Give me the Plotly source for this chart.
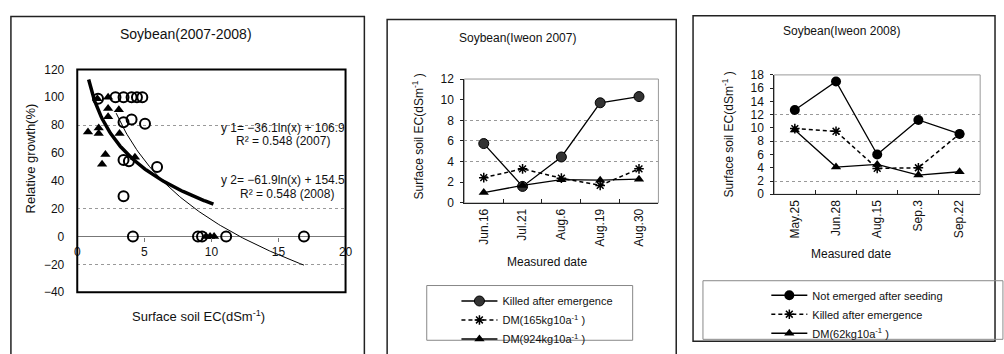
import numpy as np
import plotly.graph_objects as go

W, H = 1004, 354
FONT = "Liberation Sans, Arial, sans-serif"

# ---------------- data ----------------
# Panel 1: relative growth vs surface soil EC
tri_x = [0.8, 1.5, 1.6, 1.6, 1.85, 2.1, 2.3, 2.3, 2.3, 3.1, 3.15, 4.3, 9.6, 9.9, 10.2]
tri_y = [75, 99, 78, 74, 52, 59, 100, 92, 86, 91, 74, 57, 0, 0, 0]
circ_x = [1.55, 2.85, 3.45, 4.05, 4.45, 4.85, 3.45, 4.05, 5.05, 3.45, 3.85, 5.95, 3.45, 4.15, 9.0, 9.3, 11.1, 16.9]
circ_y = [99, 100, 100, 100, 100, 100, 82, 84, 81, 55, 54, 50, 29, 0, 0, 0, 0, 0]
trend1_coef = [-36.1, 106.9]   # y1 = a ln(x) + b (2007)
trend1_span = [0.85, 10.15]
trend2_coef = [-61.9, 154.5]   # y2 = a ln(x) + b (2008)
trend2_span = [2.9, 16.9]
grid1 = [-20, 20, 80]

# Panel 2: Soybean (Iweon 2007)
dates07 = ["Jun.16", "Jul.21", "Aug.6", "Aug.19", "Aug.30"]
killed07 = [5.75, 1.6, 4.45, 9.7, 10.3]
dm165 = [2.45, 3.3, 2.4, 1.7, 3.3]
dm924 = [1.0, 1.7, 2.25, 2.2, 2.3]
grid2 = [4, 6, 8]

# Panel 3: Soybean (Iweon 2008)
dates08 = ["May.25", "Jun.28", "Aug.15", "Sep.3", "Sep.22"]
notemerged08 = [12.7, 17.0, 6.0, 11.2, 9.1]
killed08 = [9.9, 9.5, 3.9, 4.0, 9.1]
dm62 = [9.7, 4.1, 4.5, 2.9, 3.4]
grid3 = [2, 8, 12]


def px(x):
    return x / W


def py(y):
    return 1 - y / H


fig = go.Figure()

# ---------- Panel 1 ----------
fig.add_trace(go.Scatter(x=tri_x, y=tri_y, mode="markers", xaxis="x", yaxis="y",
                         marker=dict(symbol="triangle-up", size=9, color="black"),
                         showlegend=False))
fig.add_trace(go.Scatter(x=circ_x, y=circ_y, mode="markers", xaxis="x", yaxis="y",
                         marker=dict(symbol="circle-open", size=10, color="black",
                                     line=dict(width=2, color="black")),
                         showlegend=False))
for coef, span, wd in [(trend1_coef, trend1_span, 3.5), (trend2_coef, trend2_span, 1)]:
    xs = np.linspace(span[0], span[1], 120)
    ys = coef[0] * np.log(xs) + coef[1]
    fig.add_trace(go.Scatter(x=xs, y=ys, mode="lines", xaxis="x", yaxis="y",
                             line=dict(color="black", width=wd), showlegend=False))

DASH = "4px,3px"

# ---------- Panel 2 ----------
fig.add_trace(go.Scatter(x=dates07, y=killed07, mode="lines+markers", xaxis="x2", yaxis="y2",
                         name="Killed after emergence", legend="legend", legendgroup="a1",
                         line=dict(color="black", width=1.3),
                         marker=dict(symbol="circle", size=10, color="#333",
                                     line=dict(color="black", width=1))))
fig.add_trace(go.Scatter(x=dates07, y=dm165, mode="lines+markers", xaxis="x2", yaxis="y2",
                         name="DM(165kg10a<sup>-1</sup> )", legend="legend", legendgroup="a2",
                         line=dict(color="black", width=1.5, dash=DASH),
                         marker=dict(symbol="asterisk-open", size=8, color="black",
                                     line=dict(color="black", width=1.5))))
fig.add_trace(go.Scatter(x=dates07, y=dm924, mode="lines+markers", xaxis="x2", yaxis="y2",
                         name="DM(924kg10a<sup>-1</sup> )", legend="legend", legendgroup="a3",
                         line=dict(color="black", width=1.3),
                         marker=dict(symbol="triangle-up", size=9, color="black")))

# ---------- Panel 3 ----------
fig.add_trace(go.Scatter(x=dates08, y=notemerged08, mode="lines+markers", xaxis="x3", yaxis="y3",
                         name="Not emerged after seeding", legend="legend2", legendgroup="b1",
                         line=dict(color="black", width=1.3),
                         marker=dict(symbol="circle", size=10, color="black")))
fig.add_trace(go.Scatter(x=dates08, y=killed08, mode="lines+markers", xaxis="x3", yaxis="y3",
                         name="Killed after emergence", legend="legend2", legendgroup="b2",
                         line=dict(color="black", width=1.5, dash=DASH),
                         marker=dict(symbol="asterisk-open", size=8, color="black",
                                     line=dict(color="black", width=1.5))))
fig.add_trace(go.Scatter(x=dates08, y=dm62, mode="lines+markers", xaxis="x3", yaxis="y3",
                         name="DM(62kg10a<sup>-1</sup> )", legend="legend2", legendgroup="b3",
                         line=dict(color="black", width=1.3),
                         marker=dict(symbol="triangle-up", size=9, color="black")))

# ---------- axes ----------
tick_font = dict(family=FONT, size=12, color="#111")
y1_dom = [py(297), py(65)]
y1_range = [-40, 120]
zero_pos = y1_dom[0] + (0 - y1_range[0]) / (y1_range[1] - y1_range[0]) * (y1_dom[1] - y1_dom[0])

fig.update_layout(
    xaxis=dict(domain=[px(75), px(346)], range=[0, 20], dtick=5, anchor="free", position=zero_pos,
               showline=False, showgrid=False, zeroline=False, ticks="outside", ticklen=4,
               tickcolor="#777", tickfont=tick_font, ticklabelstandoff=0),
    yaxis=dict(domain=y1_dom, range=y1_range, dtick=20, anchor="x", showgrid=False,
               zeroline=True, zerolinecolor="#777", zerolinewidth=1, showline=False,
               tickfont=tick_font, ticklabelstandoff=12,
               minor=dict(tickvals=grid1, showgrid=True, gridcolor="#999", griddash="dot", gridwidth=1)),
    xaxis2=dict(domain=[px(466), px(662)], type="category", range=[-0.5, 4.5], anchor="y2",
                showline=True, linecolor="#222", linewidth=1, ticks="inside", tickson="boundaries",
                ticklen=4, tickcolor="#222", tickangle=-90, tickfont=tick_font, showgrid=False),
    yaxis2=dict(domain=[py(204), py(75)], range=[0, 12], dtick=2, anchor="x2", showline=True,
                linecolor="#222", linewidth=1, ticks="outside", ticklen=3, tickcolor="#222",
                tickfont=tick_font, showgrid=False, zeroline=False, ticklabelstandoff=4,
                minor=dict(tickvals=grid2, showgrid=True, gridcolor="#999", griddash="dot", gridwidth=1)),
    xaxis3=dict(domain=[px(779), px(987)], type="category", range=[-0.5, 4.5], anchor="y3",
                showline=True, linecolor="#222", linewidth=1, ticks="inside", tickson="boundaries",
                ticklen=4, tickcolor="#222", tickangle=-90, tickfont=tick_font, showgrid=False),
    yaxis3=dict(domain=[py(195), py(70.7)], range=[0, 18], dtick=2, anchor="x3", showline=True,
                linecolor="#222", linewidth=1, ticks="outside", ticklen=3, tickcolor="#222",
                tickfont=tick_font, showgrid=False, zeroline=False, ticklabelstandoff=4,
                minor=dict(tickvals=grid3, showgrid=True, gridcolor="#999", griddash="dot", gridwidth=1)),
)

# ---------- frames ----------
shapes = [
    # outer panel frames
    dict(type="rect", xref="paper", yref="paper", x0=px(8), x1=px(365), y0=py(362), y1=py(10),
         line=dict(color="#222", width=1.5)),
    dict(type="rect", xref="paper", yref="paper", x0=px(388), x1=px(680), y0=py(362), y1=py(13),
         line=dict(color="#222", width=1.5)),
    dict(type="rect", xref="paper", yref="paper", x0=px(697), x1=px(1002), y0=py(348), y1=py(9),
         line=dict(color="#222", width=1.5)),
    # plot frames
    dict(type="rect", xref="x domain", yref="y domain", x0=0, x1=1, y0=0, y1=1,
         line=dict(color="black", width=2)),
    dict(type="rect", xref="x2 domain", yref="y2 domain", x0=0, x1=1, y0=0, y1=1,
         line=dict(color="#999", width=1), layer="below"),
    dict(type="rect", xref="x3 domain", yref="y3 domain", x0=0, x1=1, y0=0, y1=1,
         line=dict(color="#999", width=1), layer="below"),
    # legend boxes
    dict(type="rect", xref="paper", yref="paper", x0=px(428), x1=px(636), y0=py(347), y1=py(290),
         line=dict(color="#888", width=1)),
    dict(type="rect", xref="paper", yref="paper", x0=px(707), x1=px(1010), y0=py(346), y1=py(285),
         line=dict(color="#888", width=1)),
]


def ann(text, x, y, size=12, angle=0, xanchor="center"):
    return dict(text=text, x=px(x), y=py(y), xref="paper", yref="paper", showarrow=False,
                xanchor=xanchor, yanchor="middle", textangle=angle,
                font=dict(family=FONT, size=size, color="#111"))


annotations = [
    ann("Soybean(2007-2008)", 185, 28, 14),
    ann("Relative growth(%)", 28, 158, 13, -90),
    ann("Surface soil EC(dSm<sup>-1</sup>)", 197, 322, 13),
    ann("y 1= \u221236.1ln(x) + 106.9", 347, 126, 12, xanchor="right"),
    ann("R\u00b2 = 0.548 (2007)", 283, 139, 12),
    ann("y 2= \u221261.9ln(x) + 154.5", 347, 180, 12, xanchor="right"),
    ann("R\u00b2 = 0.548 (2008)", 287, 195, 12),
    ann("Soybean(Iweon 2007)", 520, 32, 12),
    ann("Surface soil EC(dSm<sup>-1</sup> )", 419, 135, 12, -90),
    ann("Measured date", 549, 265, 12),
    ann("Soybean(Iweon 2008)", 847, 25, 12),
    ann("Surface soil EC(dSm<sup>-1</sup> )", 732, 133, 12, -90),
    ann("Measured date", 857, 257, 12),
]

legend_common = dict(bgcolor="rgba(0,0,0,0)", borderwidth=0, xanchor="left", yanchor="top",
                     font=dict(family=FONT, size=11, color="#111"), itemwidth=36,
                     tracegroupgap=3, traceorder="normal")

fig.update_layout(
    width=W, height=H, autosize=False,
    margin=dict(l=0, r=0, t=0, b=0),
    paper_bgcolor="white", plot_bgcolor="white",
    shapes=shapes, annotations=annotations,
    legend=dict(x=px(458), y=py(291), **legend_common),
    legend2=dict(x=px(771), y=py(285), **legend_common),
)

fig.write_html("out.html", config={"displayModeBar": False},
               post_script="document.body.style.margin='0';")
